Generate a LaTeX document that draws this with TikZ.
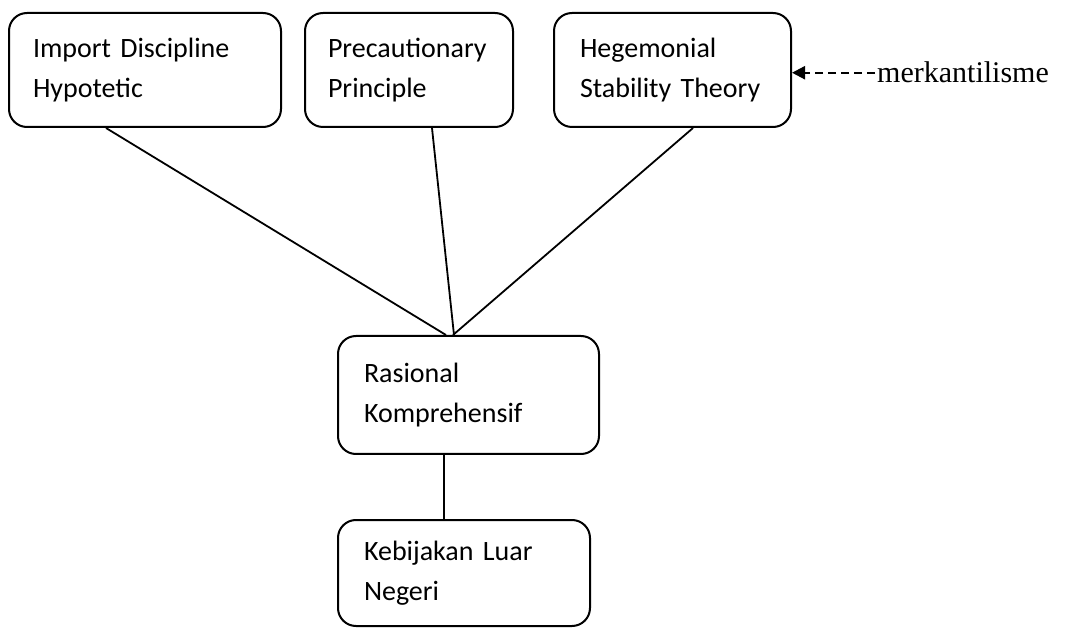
\documentclass[tikz,border=0pt]{standalone}
\usepackage{fontspec}
\setmainfont{Carlito}
\newfontfamily\timesf{Liberation Serif}
\usetikzlibrary{arrows.meta,calc}
\hyphenpenalty=10000
\exhyphenpenalty=10000
\begin{document}
\begin{tikzpicture}[x=1pt,y=-1pt,
  box/.style={draw, line width=2pt, rounded corners=18pt, inner sep=0pt,
    align=left, anchor=center,
    font=\fontsize{28}{40}\selectfont},
  link/.style={line width=1.8pt}]
\useasboundingbox (0,0) rectangle (1072,628);
\node[box, minimum width=272pt, minimum height=114pt, text width=224pt] (b1) at (145,70) {Import Discipline\\Hypotetic};
\node[box, minimum width=208pt, minimum height=114pt, text width=162pt] (b2) at (409,70) {Precautionary\\Principle};
\node[box, minimum width=237pt, minimum height=114pt, text width=185pt] (b3) at (672.5,70) {Hegemonial\\Stability Theory};
\node[box, minimum width=261pt, minimum height=118pt, text width=209pt] (r) at (468.5,395) {Rasional\\Komprehensif};
\node[box, minimum width=252pt, minimum height=106pt, text width=200pt] (k) at (464,573) {Kebijakan Luar\\Negeri};
\node[font=\timesf\fontsize{30}{36}\selectfont, inner sep=2pt, anchor=base west] (m) at (875,83) {merkantilisme};
\draw[link] ([xshift=-39pt]b1.south) -- ([xshift=-22.5pt]r.north);
\draw[link] ([xshift=23pt]b2.south) -- ([xshift=-14.5pt]r.north);
\draw[link] ([xshift=20.5pt]b3.south) -- ([xshift=-15.5pt]r.north);
\draw[link] ([xshift=-24.5pt]r.south) -- ([xshift=-24.5pt]r.south |- k.north);
\draw[link, line width=2.2pt, dash pattern=on 8pt off 5pt, -{Triangle[length=13pt,width=13pt]}] (m.west) -- (m.west -| b3.east);
\end{tikzpicture}
\end{document}
